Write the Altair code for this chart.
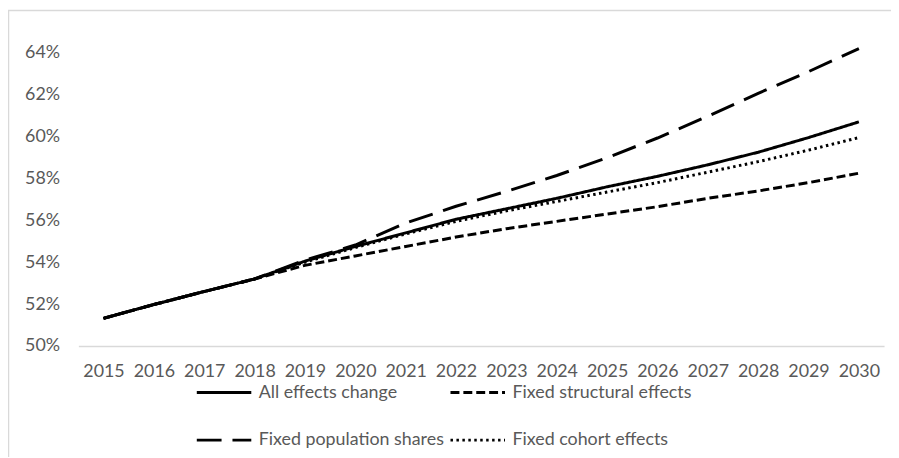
import altair as alt
import pandas as pd

years = [str(y) for y in range(2015, 2031)]
all_effects = [51.32, 51.98, 52.60, 53.20, 54.05, 54.75, 55.40, 56.05, 56.55, 57.05, 57.60, 58.10, 58.65, 59.25, 59.95, 60.70]
fixed_structural = [51.32, 51.98, 52.60, 53.20, 53.85, 54.30, 54.75, 55.20, 55.60, 55.95, 56.30, 56.65, 57.05, 57.40, 57.80, 58.25]
fixed_population = [51.32, 51.98, 52.60, 53.20, 54.10, 54.82, 55.87, 56.67, 57.38, 58.14, 58.99, 59.93, 60.97, 62.06, 63.10, 64.20]
fixed_cohort = [51.32, 51.98, 52.60, 53.20, 54.00, 54.70, 55.35, 55.95, 56.45, 56.90, 57.35, 57.80, 58.30, 58.80, 59.35, 59.95]

series_names = ["All effects change", "Fixed population shares", "Fixed structural effects", "Fixed cohort effects"]
series_values = [all_effects, fixed_population, fixed_structural, fixed_cohort]
dashes = [[1, 0], [25, 11], [9, 4], [2.5, 3.5]]
y_ticks = [0.50, 0.52, 0.54, 0.56, 0.58, 0.60, 0.62, 0.64]

rows = []
for name, vals in zip(series_names, series_values):
    for yr, v in zip(years, vals):
        rows.append({"year": yr, "value": v / 100.0, "series": name})
df = pd.DataFrame(rows)

FONT = "Lato"
GREY = "#595959"

lines = alt.Chart(df).mark_line(strokeWidth=3, color="black").encode(
    x=alt.X("year:N", sort=years, title=None,
            scale=alt.Scale(type="point", padding=0.5),
            axis=alt.Axis(labelAngle=0, ticks=False, domainColor="#d9d9d9", domainWidth=1.5,
                          labelPadding=17, labelFontSize=18, labelColor=GREY, labelFont=FONT,
                          grid=False)),
    y=alt.Y("value:Q", title=None,
            scale=alt.Scale(domain=[0.50, 0.65], nice=False, zero=False),
            axis=alt.Axis(values=y_ticks, format=".0%", ticks=False, domain=False, grid=False,
                          labelPadding=19, labelFontSize=18, labelColor=GREY, labelFont=FONT)),
    strokeDash=alt.StrokeDash("series:N", sort=series_names,
                              scale=alt.Scale(domain=series_names, range=dashes),
                              legend=alt.Legend(title=None, orient="none", legendX=118, legendY=335,
                                                columns=2, symbolType="stroke", symbolSize=3025,
                                                symbolStrokeWidth=3, symbolStrokeColor="black",
                                                labelFontSize=18, labelColor=GREY, labelFont=FONT,
                                                labelOffset=6, rowPadding=10, columnPadding=0,
                                                padding=0, labelLimit=400)),
    detail="series:N",
)

border = alt.Chart(pd.DataFrame({"a": [0]})).mark_rect(
    fill=None, stroke="#d9d9d9", strokeWidth=1.5
).encode(
    x=alt.value(-70.5), x2=alt.value(900), y=alt.value(-21.5), y2=alt.value(500)
)

chart = alt.layer(border, lines).properties(
    width=813, height=317,
    autosize=alt.AutoSizeParams(type="none"),
    padding={"left": 71, "top": 22, "right": 7, "bottom": 110},
).configure_view(stroke=None)

chart.save("out.html", embed_options={"renderer": "svg", "actions": False})
